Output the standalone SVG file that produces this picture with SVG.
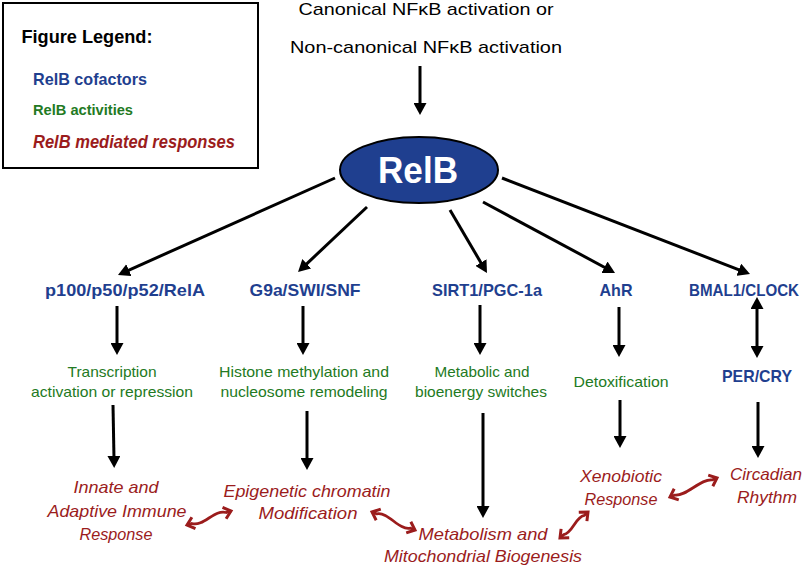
<svg xmlns="http://www.w3.org/2000/svg" width="810" height="569" viewBox="0 0 810 569">
<style>
text{font-family:"Liberation Sans",Arial,sans-serif;text-anchor:middle}
.top{font-size:17px;fill:#000}
.cof{font-size:17px;font-weight:bold;fill:#1f3f8f}
.act{font-size:15px;fill:#237a23}
.resp{font-size:17px;font-style:italic;fill:#9b1c1c}
.blk{stroke:#000;stroke-width:3;fill:none;marker-end:url(#ah)}
.dbl{stroke:#000;stroke-width:3;fill:none;marker-start:url(#ah);marker-end:url(#ah)}
.wav{stroke:#9b1c1c;stroke-width:2.8;fill:none;marker-start:url(#rh);marker-end:url(#rh)}
</style>
<defs>
<marker id="ah" markerUnits="userSpaceOnUse" viewBox="0 0 12 13" markerWidth="12" markerHeight="13" refX="3" refY="6.5" orient="auto-start-reverse"><path d="M0,0 L12,6.5 L0,13 z" fill="#000"/></marker>
<marker id="rh" markerUnits="userSpaceOnUse" viewBox="-10 -8 13 16" markerWidth="13" markerHeight="16" refX="0" refY="0" orient="auto-start-reverse"><path d="M-7,-6 L0,0 L-7,6" fill="none" stroke="#9b1c1c" stroke-width="3"/></marker>
</defs>

<g id="legend">
<rect x="3" y="3" width="255" height="165" fill="#fff" stroke="#000" stroke-width="2"/>
<text x="87" y="43" style="font-size:18.5px;font-weight:bold" textLength="131" lengthAdjust="spacingAndGlyphs">Figure Legend:</text>
<text x="90" y="85" style="font-size:17px;font-weight:bold;fill:#1f3f8f" textLength="114" lengthAdjust="spacingAndGlyphs">RelB cofactors</text>
<text x="83" y="115" style="font-size:15px;font-weight:bold;fill:#237a23" textLength="100" lengthAdjust="spacingAndGlyphs">RelB activities</text>
<text x="134" y="148" style="font-size:18px;font-weight:bold;font-style:italic;fill:#9b1c1c" textLength="202" lengthAdjust="spacingAndGlyphs">RelB mediated responses</text>
</g>

<g id="input">
<text class="top" x="426" y="15" textLength="255" lengthAdjust="spacingAndGlyphs">Canonical NFκB activation or</text>
<text class="top" x="426" y="53" textLength="272" lengthAdjust="spacingAndGlyphs">Non-canonical NFκB activation</text>
</g>

<g id="relb">
<ellipse cx="419" cy="170" rx="79" ry="33" fill="#1f3f8f" stroke="#000" stroke-width="2"/>
<text x="418" y="183" style="font-size:37px;font-weight:bold;fill:#fff" textLength="80" lengthAdjust="spacingAndGlyphs">RelB</text>
</g>

<g id="cofactors">
<text class="cof" x="125" y="296" textLength="160" lengthAdjust="spacingAndGlyphs">p100/p50/p52/RelA</text>
<text class="cof" x="305" y="296" textLength="111" lengthAdjust="spacingAndGlyphs">G9a/SWI/SNF</text>
<text class="cof" x="487" y="296" textLength="110" lengthAdjust="spacingAndGlyphs">SIRT1/PGC-1a</text>
<text class="cof" x="616" y="296" textLength="33" lengthAdjust="spacingAndGlyphs">AhR</text>
<text class="cof" x="744" y="296" style="font-size:16.5px" textLength="110" lengthAdjust="spacingAndGlyphs">BMAL1/CLOCK</text>
<text class="cof" x="757" y="382" textLength="70" lengthAdjust="spacingAndGlyphs">PER/CRY</text>
</g>

<g id="activities">
<text class="act" x="112" y="377" textLength="89" lengthAdjust="spacingAndGlyphs">Transcription</text>
<text class="act" x="112" y="397" textLength="162" lengthAdjust="spacingAndGlyphs">activation or repression</text>
<text class="act" x="304" y="377" textLength="170" lengthAdjust="spacingAndGlyphs">Histone methylation and</text>
<text class="act" x="304" y="397" textLength="167" lengthAdjust="spacingAndGlyphs">nucleosome remodeling</text>
<text class="act" x="482" y="377" textLength="95" lengthAdjust="spacingAndGlyphs">Metabolic and</text>
<text class="act" x="481" y="397" textLength="132" lengthAdjust="spacingAndGlyphs">bioenergy switches</text>
<text class="act" x="621" y="387" textLength="95" lengthAdjust="spacingAndGlyphs">Detoxification</text>
</g>

<g id="responses">
<text class="resp" x="116" y="493" textLength="85" lengthAdjust="spacingAndGlyphs">Innate and</text>
<text class="resp" x="117" y="517" textLength="139" lengthAdjust="spacingAndGlyphs">Adaptive Immune</text>
<text class="resp" x="116" y="540" textLength="73" lengthAdjust="spacingAndGlyphs">Response</text>
<text class="resp" x="307" y="497" textLength="167" lengthAdjust="spacingAndGlyphs">Epigenetic chromatin</text>
<text class="resp" x="308" y="519" textLength="99" lengthAdjust="spacingAndGlyphs">Modification</text>
<text class="resp" x="483" y="540" textLength="129" lengthAdjust="spacingAndGlyphs">Metabolism and</text>
<text class="resp" x="483" y="562" textLength="198" lengthAdjust="spacingAndGlyphs">Mitochondrial Biogenesis</text>
<text class="resp" x="621" y="482" textLength="82" lengthAdjust="spacingAndGlyphs">Xenobiotic</text>
<text class="resp" x="621" y="505" textLength="73" lengthAdjust="spacingAndGlyphs">Response</text>
<text class="resp" x="766" y="480" textLength="72" lengthAdjust="spacingAndGlyphs">Circadian</text>
<text class="resp" x="767" y="503" textLength="60" lengthAdjust="spacingAndGlyphs">Rhythm</text>
</g>

<g id="connectors">
<line class="blk" x1="420" y1="66" x2="420" y2="106"/>
<line class="blk" x1="335" y1="178" x2="126.2" y2="271.3"/>
<line class="blk" x1="367" y1="207" x2="304.6" y2="265.8"/>
<line class="blk" x1="450" y1="210" x2="482.4" y2="265.2"/>
<line class="blk" x1="483" y1="202" x2="607.1" y2="268.7"/>
<line class="blk" x1="502" y1="178" x2="741.6" y2="270.8"/>
<line class="blk" x1="117" y1="306" x2="117" y2="346"/>
<line class="blk" x1="303" y1="306" x2="303" y2="346"/>
<line class="blk" x1="480" y1="305" x2="480" y2="346"/>
<line class="blk" x1="619" y1="307" x2="619" y2="348"/>
<line class="dbl" x1="757" y1="306" x2="757" y2="349"/>
<line class="blk" x1="113" y1="405" x2="114" y2="459"/>
<line class="blk" x1="307" y1="411" x2="307" y2="461"/>
<line class="blk" x1="483" y1="413" x2="483" y2="509"/>
<line class="blk" x1="620" y1="400" x2="620" y2="439"/>
<line class="blk" x1="758" y1="402" x2="758" y2="449"/>
<path class="wav" d="M187,525 L191.8,523.5 C203.5,527.1 214.5,508.9 226.2,512.5 L231,511"/>
<path class="wav" d="M372,512 L376.6,513.9 C388.5,511.3 398.5,530.7 410.4,528.1 L415,530"/>
<path class="wav" d="M560,538 L563.7,534.6 C573,532.8 575,517.2 584.3,515.4 L588,512"/>
<path class="wav" d="M670,497 L674.6,495.1 C686.1,496.9 700.9,478.1 712.4,479.9 L717,478"/>
</g>
</svg>
